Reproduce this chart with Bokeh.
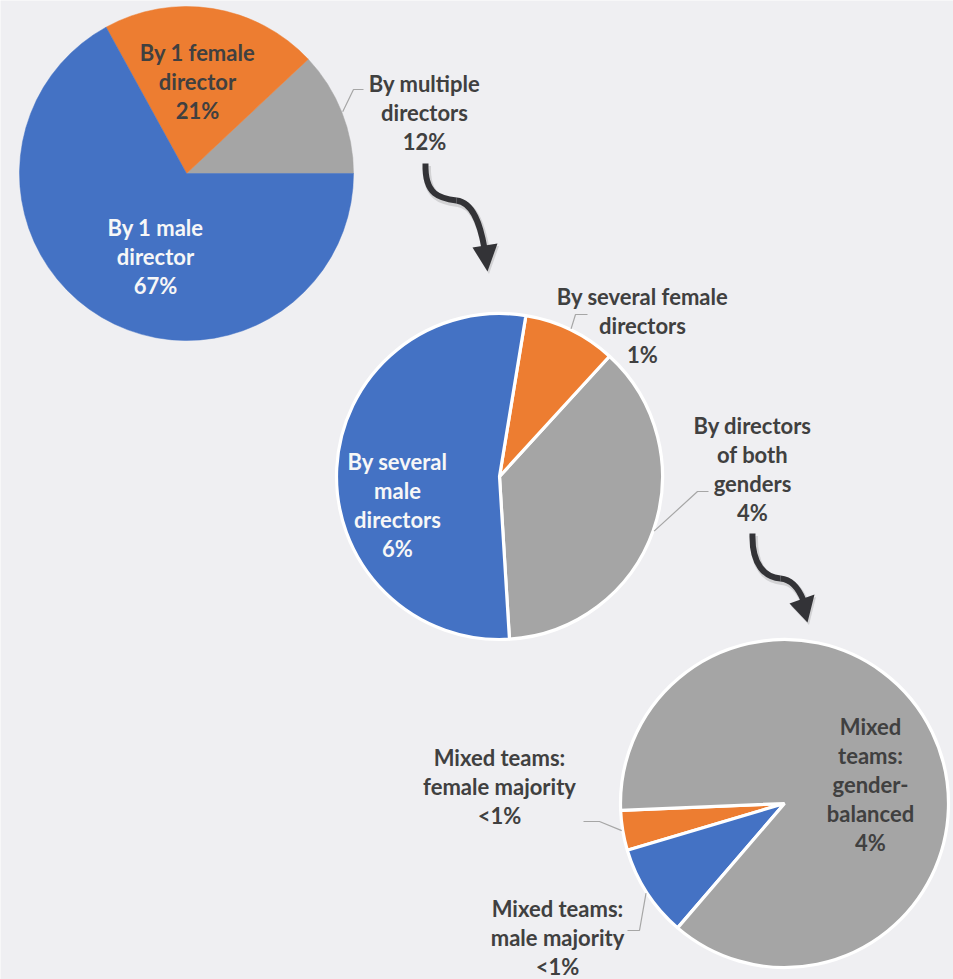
import numpy as np
from bokeh.plotting import figure
from bokeh.models import Range1d, ColumnDataSource
from bokeh.core.properties import value
from bokeh.embed import file_html
from bokeh.resources import INLINE

# ---------------- data ----------------
pie1_categories = ["By multiple directors", "By 1 female director", "By 1 male director"]
pie1_values = [12, 21, 67]
pie1_pct = ["12%", "21%", "67%"]
pie1_lines = [["By multiple", "directors"], ["By 1 female", "director"], ["By 1 male", "director"]]

pie2_categories = ["By directors of both genders", "By several female directors", "By several male directors"]
pie2_values = [4.45, 1.1, 6.4]
pie2_pct = ["4%", "1%", "6%"]
pie2_lines = [["By directors", "of both", "genders"], ["By several female", "directors"],
              ["By several", "male", "directors"]]

pie3_categories = ["Mixed teams: female majority", "Mixed teams: male majority", "Mixed teams: gender-balanced"]
pie3_values = [0.175, 0.405, 3.87]
pie3_pct = ["<1%", "<1%", "4%"]
pie3_lines = [["Mixed teams:", "female majority"], ["Mixed teams:", "male majority"],
              ["Mixed", "teams:", "gender-", "balanced"]]

# ---------------- style ----------------
BLUE, ORANGE, GRAY = "#4472C4", "#ED7D31", "#A5A5A5"
DARK, LIGHT = "#404040", "#F7F7F7"
BG = "#EFEFF2"
W, H = 953, 979


def Y(py):
    return H - py


p = figure(width=W, height=H, output_backend="svg", toolbar_location=None,
           x_range=Range1d(0, W), y_range=Range1d(0, H),
           min_border=0, background_fill_color=BG, border_fill_color=BG)
p.axis.visible = False
p.grid.visible = False
p.outline_line_color = None

text_x, text_y, text_s, text_c = [], [], [], []
lead_xs, lead_ys = [], []
SPACING = 29


def draw_pie(cx, cy, r, values, colors, start_deg, border, lines, pcts, label_pos, text_colors, leaders):
    vals = np.array(values, float)
    frac = vals / vals.sum()
    ang = np.deg2rad(start_deg) + np.concatenate([[0.0], np.cumsum(frac)]) * 2 * np.pi
    src = ColumnDataSource(dict(start=ang[:-1], end=ang[1:], color=colors))
    if border:
        p.wedge(x=cx, y=Y(cy), radius=r, start_angle="start", end_angle="end", source=src,
                fill_color="color", line_color="white", line_width=3.2)
    else:
        p.wedge(x=cx, y=Y(cy), radius=r, start_angle="start", end_angle="end", source=src,
                fill_color="color", line_color="color", line_width=0.5)
    mids = (ang[:-1] + ang[1:]) / 2
    for i in range(len(values)):
        lx, ly = label_pos[i]
        ln = lines[i] + [pcts[i]]
        n = len(ln)
        for k, t in enumerate(ln):
            text_x.append(lx)
            text_y.append(Y(ly + (k - (n - 1) / 2) * SPACING))
            text_s.append(t)
            text_c.append(text_colors[i])
        if leaders[i] is not None:
            (ex, ey), (fx, fy) = leaders[i]
            sx = cx + (r + 1) * np.cos(mids[i])
            sy = Y(cy) + (r + 1) * np.sin(mids[i])
            lead_xs.append([sx, ex, fx])
            lead_ys.append([sy, Y(ey), Y(fy)])


# pie 1
draw_pie(186, 173, 167, pie1_values, [GRAY, ORANGE, BLUE], 0.0, False,
         pie1_lines, pie1_pct, [(424, 112), (197, 80.5), (155, 255.5)],
         [DARK, DARK, LIGHT], [((353, 89), (363, 89)), None, None])
# pie 2
draw_pie(499, 476, 163, pie2_values, [GRAY, ORANGE, BLUE], -86.5, True,
         pie2_lines, pie2_pct, [(752, 468.5), (642, 325), (397, 504)],
         [DARK, DARK, LIGHT], [((697, 491), (708, 491)), ((575, 314), (587, 314)), None])
# pie 3
draw_pie(784, 803, 164, pie3_values, [ORANGE, BLUE, GRAY], 182.4, True,
         pie3_lines, pie3_pct, [(499, 786), (557, 937), (870, 783.5)],
         [DARK, DARK, DARK], [((599, 821), (583, 821)), ((639, 930), (627, 930)), None])

p.multi_line(xs=lead_xs, ys=lead_ys, line_color="#A6A6A6", line_width=1.2)

# curved arrows
ARROW = "#333337"
arrows = [
    # start, ctrl1, ctrl2, mid, ctrl3, ctrl4, end, head(b1, b2, tip)
    [(425, 163), (424, 195), (440, 198), (456, 200), (473, 202), (480, 225), (484, 248),
     [(472, 247), (497, 243), (487, 271)]],
    [(752, 533), (751, 565), (765, 577), (780, 578), (792, 579), (799, 590), (803, 600),
     [(789, 603), (814, 594), (807, 622)]],
]
for a in arrows:
    s, c1, c2, m, c3, c4, e, head = a
    for dx, dy, col, alpha, lw in [(1.5, 2.5, "#000000", 0.12, 8), (0, 0, ARROW, 1.0, 6)]:
        p.bezier(x0=[s[0] + dx, m[0] + dx], y0=[Y(s[1] + dy), Y(m[1] + dy)],
                 x1=[m[0] + dx, e[0] + dx], y1=[Y(m[1] + dy), Y(e[1] + dy)],
                 cx0=[c1[0] + dx, c3[0] + dx], cy0=[Y(c1[1] + dy), Y(c3[1] + dy)],
                 cx1=[c2[0] + dx, c4[0] + dx], cy1=[Y(c2[1] + dy), Y(c4[1] + dy)],
                 line_color=col, line_alpha=alpha, line_width=lw)
        p.patch(x=[h[0] + dx for h in head], y=[Y(h[1] + dy) for h in head],
                fill_color=col, fill_alpha=alpha, line_color=None)

tsrc = ColumnDataSource(dict(x=text_x, y=text_y, text=text_s, color=text_c))
p.text(x="x", y="y", text="text", source=tsrc, text_color="color",
       text_font=value("Lato"), text_font_style="bold", text_font_size="22px",
       text_align="center", text_baseline="middle")

open("out.html", "w").write(file_html(p, INLINE))
